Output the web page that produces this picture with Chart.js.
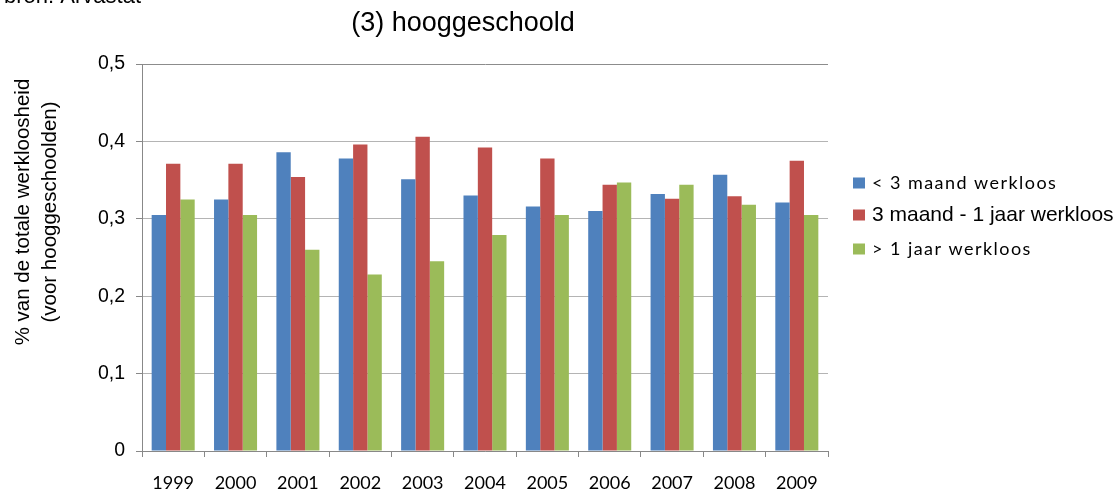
<!DOCTYPE html>
<html><head><meta charset="utf-8">
<script src="https://cdn.jsdelivr.net/npm/chart.js@4.4.0/dist/chart.umd.min.js"></script>
<style>html,body{margin:0;padding:0;background:#fff;overflow:hidden}#wrap{position:relative;width:1114px;height:491px}</style>
</head><body><div id="wrap"><canvas id="c" width="1114" height="491"></canvas></div>
<script>
const categories = ['1999','2000','2001','2002','2003','2004','2005','2006','2007','2008','2009'];
const seriesNames = ['< 3 maand werkloos','3 maand - 1 jaar werkloos','> 1 jaar werkloos'];
const shortTerm = [0.305,0.325,0.386,0.378,0.351,0.330,0.316,0.310,0.332,0.357,0.321];
const midTerm   = [0.371,0.371,0.354,0.396,0.406,0.392,0.378,0.344,0.326,0.329,0.375];
const longTerm  = [0.325,0.305,0.260,0.228,0.245,0.279,0.305,0.347,0.344,0.318,0.305];
const yTicks = [0,0.1,0.2,0.3,0.4,0.5];
const titleText = '(3) hooggeschoold';
const yTitleLines = ['% van de totale werkloosheid','(voor hooggeschoolden)'];
const sourceText = 'bron: Arvastat';
const colors = ['#4F81BD','#C0504D','#9BBB59'];

const decor = {
  id:'decor',
  afterDraw(chart){
    const ctx = chart.ctx;
    ctx.save();
    ctx.fillStyle = '#000';
    // source (cut off at top)
    ctx.font = '22px "Liberation Sans", Arial, sans-serif';
    ctx.textAlign = 'right'; ctx.textBaseline = 'alphabetic';
    ctx.fillText(sourceText, 141, 3);
    // title
    ctx.font = '27px "Liberation Sans", Arial, sans-serif';
    ctx.textAlign = 'center'; ctx.textBaseline = 'middle';
    ctx.fillText(titleText, 463, 24);
    // y title
    ctx.font = '20.5px "Liberation Sans", Arial, sans-serif';
    const xs = [23, 50];
    yTitleLines.forEach((t,i)=>{
      ctx.save();
      ctx.translate(xs[i], 212);
      ctx.rotate(-Math.PI/2);
      ctx.fillText(t, 0, 0);
      ctx.restore();
    });
    // legend
    const ys = [183, 215, 249];
    chart.data.datasets.forEach((ds,i)=>{
      ctx.fillStyle = ds.backgroundColor;
      ctx.fillRect(853, ys[i]-5.5, 12, 11);
      ctx.fillStyle = '#000';
      ctx.textAlign = 'left'; ctx.textBaseline = 'middle';
      if (i === 1) {
        ctx.font = '21px "Liberation Sans", Arial, sans-serif';
        ctx.letterSpacing = '0px';
      } else {
        ctx.font = '18px Lato, sans-serif';
        ctx.letterSpacing = '1.45px';
      }
      ctx.fillText(ds.label, 872, ys[i]);
      ctx.letterSpacing = '0px';
    });
    ctx.restore();
  }
};

new Chart(document.getElementById('c'), {
  type:'bar',
  data:{
    labels: categories,
    datasets:[
      {label: seriesNames[0], data: shortTerm, backgroundColor: colors[0]},
      {label: seriesNames[1], data: midTerm, backgroundColor: colors[1]},
      {label: seriesNames[2], data: longTerm, backgroundColor: colors[2]}
    ]
  },
  options:{
    responsive:false,
    animation:false,
    layout:{padding:{left:0,right:286,top:64,bottom:0}},
    datasets:{bar:{categoryPercentage:0.69, barPercentage:1.0}},
    plugins:{legend:{display:false}, title:{display:false}, tooltip:{enabled:false}},
    scales:{
      x:{
        grid:{display:true, drawOnChartArea:false, offset:true, tickLength:6, color:'#888', tickColor:'#888'},
        border:{display:true, color:'#888', width:1},
        ticks:{font:{family:'Lato', size:18}, color:'#000', padding:15, maxRotation:0},
        afterFit(s){ s.height = 40; }
      },
      y:{
        min:0, max:0.5,
        afterBuildTicks(s){ s.ticks = yTicks.map(v=>({value:v})); },
        grid:{tickLength:6, color:(c)=> (c.tick && c.tick.value===0.5) ? '#8c8c8c' : '#b4b4b4', tickColor:'#888', lineWidth:1},
        border:{display:true, color:'#888', width:1},
        ticks:{font:{family:'"Liberation Sans", Arial', size:19.5}, color:'#000', padding:11,
          callback:(v)=> v===0 ? '0' : Number(v).toFixed(1).replace('.',',')},
        afterFit(s){ s.width = 142; }
      }
    }
  },
  plugins:[decor]
});
</script></body></html>
